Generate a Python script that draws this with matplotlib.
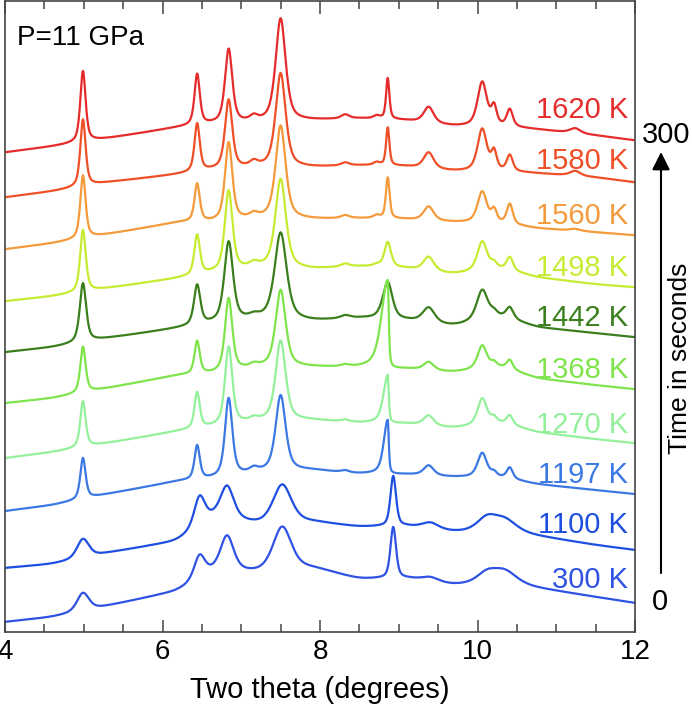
import numpy as np
import matplotlib
matplotlib.use("Agg")
import matplotlib.pyplot as plt
from matplotlib.ticker import MultipleLocator

# ---------------- data ----------------
labels = ["1620 K", "1580 K", "1560 K", "1498 K", "1442 K",
          "1368 K", "1270 K", "1197 K", "1100 K", "300 K"]
colors = ["#e62b2b", "#ef4f27", "#f49a3b", "#c6ec32", "#3b7e1d",
          "#7fe44b", "#94f09b", "#3b78e4", "#1f4fe0", "#2f52e4"]

# background anchor positions (two theta) and levels per pattern (stacked intensity units)
bg_x = [4.0, 4.6, 5.3, 6.2, 6.62, 7.25, 7.9, 8.5, 9.1, 9.7, 10.3, 10.75, 11.5, 12.0]
bg_1620 = [480, 486, 494, 505, 508, 510, 512, 514, 512, 506, 506, 503, 497, 492]
bg_1580 = [435, 441, 450, 458, 462, 465, 465, 467, 466, 461, 461, 459, 455, 450]
bg_1560 = [383, 389, 398, 410, 410, 414, 413, 414, 413, 410, 409, 404, 400, 397]
bg_1498 = [331, 336, 344, 354, 359, 365, 363, 366, 364, 358, 364, 355, 348, 345]
bg_1442 = [280, 285, 294, 304, 308, 313, 311, 314, 312, 306, 316, 305, 299, 295]
bg_1368 = [229, 234, 244, 257, 258, 265, 265, 264, 264, 260, 266, 254, 247, 243]
bg_1270 = [174, 180, 189, 201, 205, 211, 212, 209, 209, 204, 210, 200, 193, 189]
bg_1197 = [121, 127, 138, 151, 153, 160, 162, 158, 158, 155, 155, 148, 142, 138]
bg_1100 = [64, 68, 79, 91, 116, 107, 110, 105, 106, 100, 100, 96, 87, 82]
bg_300 = [10, 15, 26, 41, 61, 59, 64, 53, 54, 47, 49, 44, 35, 29]

# crystalline reflections (hot patterns)
pk_pos_hot = [4.99, 6.44, 6.84, 7.16, 7.50, 8.32, 8.72, 8.86, 9.38, 10.06, 10.21, 10.41, 11.24]
pk_wid_hot = [0.04, 0.04, 0.055, 0.06, 0.075, 0.06, 0.05, 0.025, 0.075, 0.07, 0.04, 0.045, 0.08]
h_1620 = [71, 51, 74, 5, 103, 4, 3, 41, 16, 44, 18, 17, 5]
h_1580 = [67, 48, 69, 5, 94, 3, 3, 38, 16, 42, 18, 16, 5]
h_1560 = [63, 38, 78, 4, 93, 3, 3, 41, 14, 31, 12, 20, 2]
h_1498 = [62, 40, 80, 4, 89, 3, 2, 25, 14, 29, 5, 13, 0]
h_1442 = [59, 40, 80, 3, 87, 3, 0, 37, 15, 30, 4, 11, 0]
h_1368 = [46, 33, 73, 3, 77, 2, 0, 88, 8, 23, 4, 9, 0]
h_1270 = [46, 36, 78, 3, 80, 2, 0, 48, 10, 26, 5, 9, 0]
h_1197 = [41, 34, 78, 4, 76, 2, 0, 54, 10, 24, 4, 11, 0]
# the 8.86 reflection is asymmetric: low-angle and high-angle half widths per hot pattern
w886_left = [0.025, 0.025, 0.028, 0.05, 0.075, 0.095, 0.065, 0.06]
w886_right = [0.025, 0.025, 0.028, 0.05, 0.07, 0.016, 0.016, 0.016]
wscale_hot = [1.0, 1.0, 1.0, 1.05, 1.2, 1.0, 1.0, 1.0]

# broad reflections (low temperature patterns)
pk_pos_cold = [4.99, 6.47, 6.82, 7.52, 8.93, 9.40, 10.12, 10.35]
pk_wid_cold = [0.09, 0.08, 0.10, 0.14, 0.042, 0.12, 0.15, 0.18]
h_1100 = [19, 28, 32, 39, 50, 6, 13, 12]
h_300 = [18, 22, 35, 44, 51, 4, 10, 12]

# ---------------- build curves ----------------
x = np.linspace(4.0, 12.0, 1601)
dx = x[1] - x[0]


def pvoigt(xx, x0, wl, wr=None, eta=0.6):
    if wr is None:
        wr = wl
    w = np.where(xx < x0, wl, wr)
    d = (xx - x0) / w
    return eta / (1 + d * d) + (1 - eta) * np.exp(-np.log(2) * d * d)


def background(levels):
    b = np.interp(x, bg_x, levels)
    sig = 0.09 / dx
    k = np.arange(-int(4 * sig), int(4 * sig) + 1)
    ker = np.exp(-0.5 * (k / sig) ** 2)
    ker /= ker.sum()
    n = len(k) // 2
    bp = np.pad(b, n, mode="reflect", reflect_type="odd")
    return np.convolve(bp, ker, mode="valid")


hot_bg = [bg_1620, bg_1580, bg_1560, bg_1498, bg_1442, bg_1368, bg_1270, bg_1197]
hot_h = [h_1620, h_1580, h_1560, h_1498, h_1442, h_1368, h_1270, h_1197]
curves = []
for i in range(8):
    y = background(hot_bg[i])
    for j, (p, w, h) in enumerate(zip(pk_pos_hot, pk_wid_hot, hot_h[i])):
        if j == 7:
            y = y + h * pvoigt(x, p, w886_left[i], w886_right[i])
        else:
            y = y + h * pvoigt(x, p, w * wscale_hot[i])
    curves.append(y)
for bgl, hl in [(bg_1100, h_1100), (bg_300, h_300)]:
    y = background(bgl)
    for p, w, h in zip(pk_pos_cold, pk_wid_cold, hl):
        y = y + h * pvoigt(x, p, w, eta=0.5)
    curves.append(y)

# ---------------- plot ----------------
plt.rcParams["font.family"] = ["Liberation Sans", "DejaVu Sans"]
W, H = 692, 704
fig = plt.figure(figsize=(W / 100, H / 100), dpi=100)
ax = fig.add_axes([5 / W, (H - 632) / H, 630 / W, 631.5 / H])

for y, c in zip(curves, colors):
    ax.plot(x, y, color=c, lw=1.6, solid_joinstyle="round")

label_dy = [33, 24, 22, 22, 22, 22, 21, 22, 27, 25]
for y, c, lab, d in zip(curves, colors, labels, label_dy):
    ax.text(11.91, y[-1] + d - 10.5, lab, color=c, fontsize=21,
            ha="right", va="baseline")

ax.text(4.15, 597 - 10, "P=11 GPa", fontsize=20, ha="left", va="baseline")

ax.set_xlim(4, 12)
ax.set_ylim(0, 632)
ax.xaxis.set_major_locator(MultipleLocator(2))
ax.xaxis.set_minor_locator(MultipleLocator(0.5))
ax.tick_params(axis="x", which="both", direction="in", top=True,
               labelsize=20, pad=5, color="#444444")
ax.tick_params(axis="x", which="major", length=9, width=1.1)
ax.tick_params(axis="x", which="minor", length=5.5, width=1.1)
ax.set_yticks([])
for s in ax.spines.values():
    s.set_color("#444444")
    s.set_linewidth(1.2)
ax.set_xlabel("Two theta (degrees)", fontsize=21, labelpad=8)

# time axis on the right
fig.text(642 / W, 1 - 143 / H, "300", fontsize=21, ha="left", va="baseline")
fig.text(660 / W, 1 - 610 / H, "0", fontsize=21, ha="center", va="baseline")
ax.annotate("", xy=(661 / W, 1 - 152 / H), xytext=(661 / W, 1 - 573 / H),
            xycoords="figure fraction", textcoords="figure fraction",
            arrowprops=dict(arrowstyle="-|>,head_length=0.4,head_width=0.2",
                            lw=1.5, color="black", mutation_scale=27,
                            shrinkA=0, shrinkB=0))
fig.text(680 / W, 1 - 358 / H, "Time in seconds", fontsize=19,
         rotation=90, ha="center", va="center")

fig.savefig("out.png", dpi=100)
